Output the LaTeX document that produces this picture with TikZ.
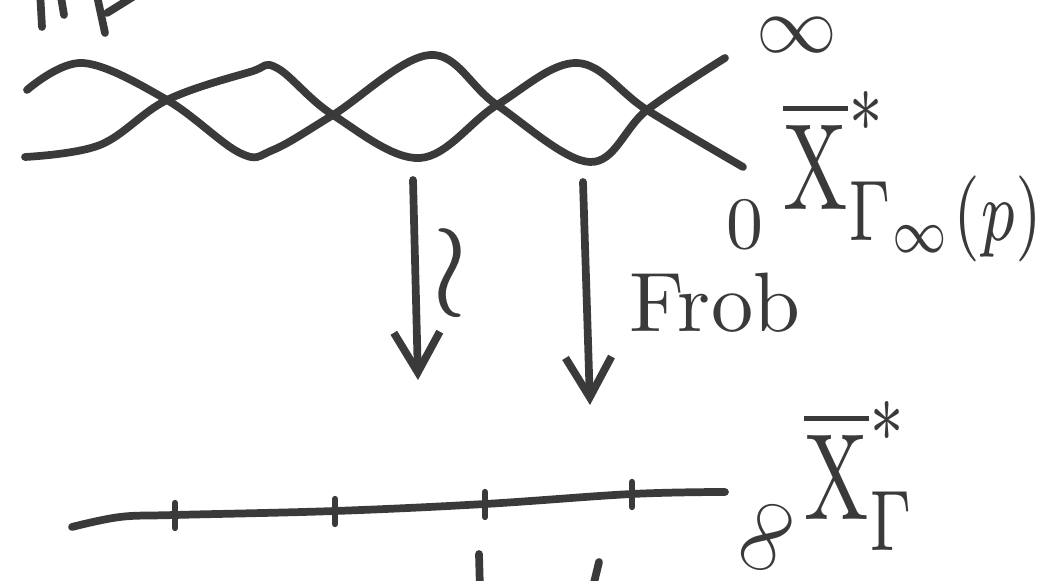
\documentclass[tikz,border=0pt]{standalone}
\usepackage{amssymb}
\usetikzlibrary{arrows.meta}
\definecolor{pen}{HTML}{3A3A3A}

\begin{document}
\begin{tikzpicture}[line width=2.2pt,line cap=round,line join=round,draw=pen,
  every node/.style={text=pen,inner sep=0pt},
  mapsto/.style={-{Straight Barb[length=4mm,width=4.6mm]}},
  tall/.style={xscale=2.45,yscale=3.5,anchor=base west}]
\useasboundingbox (0,0) rectangle (10.51,5.81);
% leftovers of writing cut by the frame
\draw (0.40,5.90)--(0.42,5.54);
\draw (0.60,5.90)--(0.64,5.66);
\draw (0.96,5.90)--(1.05,5.48);
\draw (1.07,5.68)--(1.36,5.86);
\draw (4.79,0.27)--(4.80,-0.10);
\draw (5.99,0.19)--(5.92,-0.10);
% the two branches over F_p
\draw plot[smooth,tension=.6] coordinates {(0.27,4.91) (0.83,5.18) (1.67,4.81) (2.40,4.28) (2.73,4.31) (3.33,4.66) (4.30,5.26) (4.97,4.76) (5.90,4.19) (6.47,4.71) (7.25,5.23)};
\draw plot[smooth,tension=.6] coordinates {(0.25,4.24) (1.00,4.36) (1.67,4.81) (2.50,5.09) (2.77,5.13) (3.33,4.66) (4.20,4.23) (4.97,4.76) (5.77,5.18) (6.47,4.71) (7.43,4.14)};
\node[scale=2.3] (inf) at (7.97,5.46) {$\infty$};
\node[scale=2.1] (zero) at (7.45,3.56) {$0$};
\node[tall] (Xup) at (7.74,3.71) {$\overline{\mathrm{X}}^*_{\Gamma_{\infty}(p)}$};
% the maps
\coordinate (s1) at (4.13,4.01); \coordinate (t1) at (4.18,2.01);
\coordinate (s2) at (5.83,3.99); \coordinate (t2) at (5.90,1.76);
\draw[mapsto] (s1)--(t1);
\draw[mapsto] (s2)--(t2);
\node[scale=3.8] (iso) at (4.50,3.08) {$\wr$};
\node[scale=2.4] (frob) at (7.15,2.78) {Frob};
% the base curve
\draw plot[smooth,tension=.6] coordinates {(0.72,0.54) (1.20,0.64) (1.75,0.66) (3.35,0.70) (4.85,0.77) (6.32,0.87) (7.25,0.89)};
\foreach \x/\y in {1.75/.66,3.35/.70,4.85/.77,6.32/.87}{\draw[line width=1.8pt] (\x,\y+.12)--(\x,\y-.13);}
\node[scale=2.2,rotate=65] (infb) at (7.67,0.44) {$\infty$};
\node[tall] (Xdown) at (7.95,0.61) {$\overline{\mathrm{X}}^*_{\Gamma}$};
\end{tikzpicture}
\end{document}
